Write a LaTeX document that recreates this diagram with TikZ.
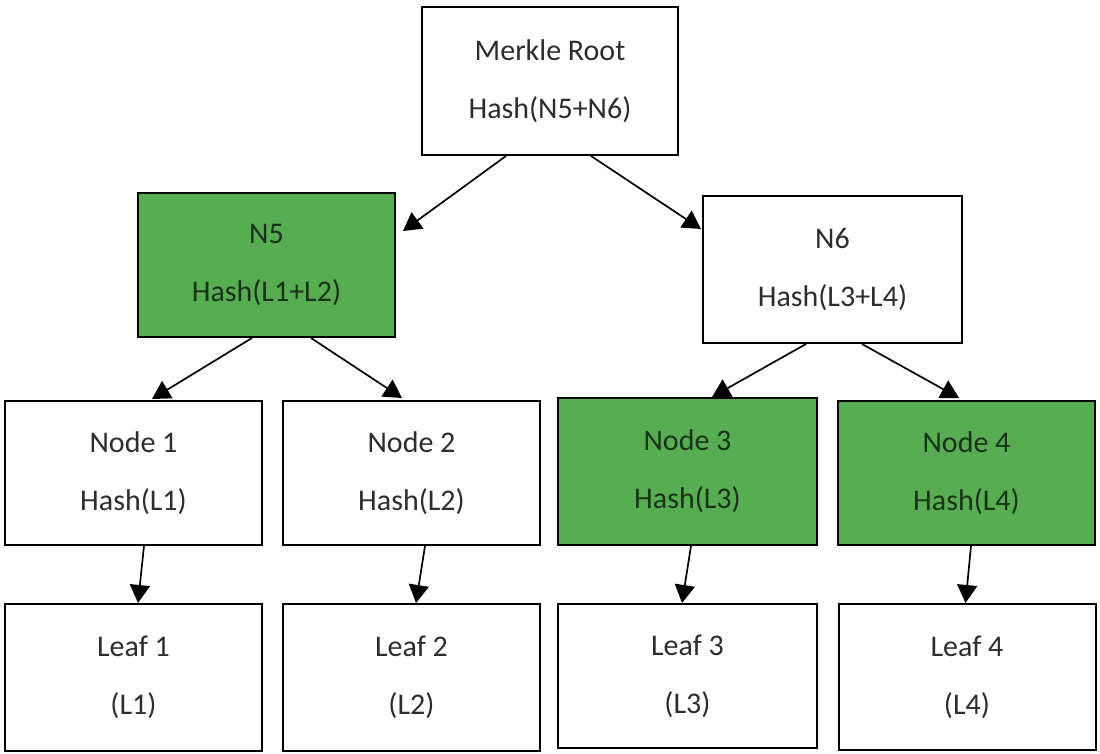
\documentclass[tikz,border=0pt]{standalone}
\usepackage{fontspec}
\setmainfont{Carlito}
\usetikzlibrary{arrows.meta,calc}
\definecolor{boxgreen}{RGB}{88,172,82}
\definecolor{gtext}{RGB}{22,52,22}
\definecolor{wtext}{RGB}{45,45,45}
\begin{document}
\begin{tikzpicture}[x=0.5pt,y=-0.5pt,
  box/.style={draw=black, line width=1pt, fill=white, text=wtext, align=center,
    font=\fontsize{15}{29}\selectfont, inner sep=0pt,
    minimum width=128.5pt, minimum height=72pt},
  gbox/.style={box, fill=boxgreen, text=gtext},
  conn/.style={-{Triangle[width=10pt,length=9pt]}, line width=0.85pt}]
\useasboundingbox[fill=white] (0,0) rectangle (1100,754);

\node[box, minimum width=128pt, minimum height=74pt] (root) at (550,81) {Merkle Root\\Hash(N5+N6)};
\node[gbox, minimum height=72pt] (n5) at (266.5,265) {N5\\Hash(L1+L2)};
\node[box, minimum width=129.5pt, minimum height=73.5pt] (n6) at (832.5,269.5) {N6\\Hash(L3+L4)};

\node[box] (nd1) at (133.5,473) {Node 1\\Hash(L1)};
\node[box] (nd2) at (411.5,473) {Node 2\\Hash(L2)};
\node[gbox, minimum width=129.5pt, minimum height=73.5pt] (nd3) at (687.5,471.5) {Node 3\\Hash(L3)};
\node[gbox] (nd4) at (966.5,473) {Node 4\\Hash(L4)};

\node[box, minimum height=73.5pt] (lf1) at (133.5,677.5) {Leaf 1\\(L1)};
\node[box, minimum height=73.5pt] (lf2) at (411.5,677.5) {Leaf 2\\(L2)};
\node[box, minimum width=129.5pt, minimum height=72pt] (lf3) at (687.5,676) {Leaf 3\\(L3)};
\node[box, minimum height=73pt] (lf4) at (967,677) {Leaf 4\\(L4)};

\draw[conn] ($(root.south west)+(85,0)$) -- ($(n5.north east)+(7,39)$);
\draw[conn] ($(root.south west)+(170,0)$) -- ($(n6.north west)+(-1,34)$);
\draw[conn] ($(n5.south west)+(115,0)$) -- ($(nd1.north west)+(148,-1)$);
\draw[conn] ($(n5.south west)+(174,0)$) -- ($(nd2.north west)+(120,-2)$);
\draw[conn] ($(n6.south west)+(104,0)$) -- ($(nd3.north west)+(155,0)$);
\draw[conn] ($(n6.south west)+(160,0)$) -- ($(nd4.north west)+(122,-2)$);
\draw[conn] ($(nd1.south west)+(140,0)$) -- ($(lf1.north west)+(134,0)$);
\draw[conn] ($(nd2.south west)+(143,0)$) -- ($(lf2.north west)+(134,0)$);
\draw[conn] ($(nd3.south west)+(134,0)$) -- ($(lf3.north west)+(125,0)$);
\draw[conn] ($(nd4.south west)+(134,0)$) -- ($(lf4.north west)+(128,0)$);
\end{tikzpicture}
\end{document}
